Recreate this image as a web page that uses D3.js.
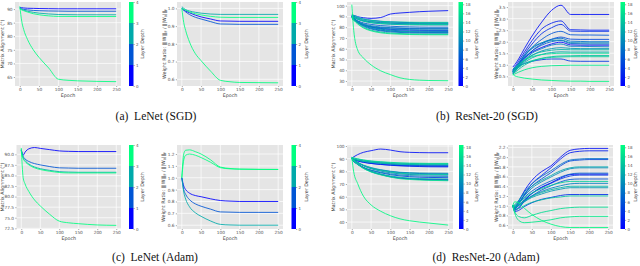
<!DOCTYPE html>
<html>
<head>
<meta charset="utf-8">
<script src="https://cdn.jsdelivr.net/npm/d3@7"></script>
<style>
  body { margin: 0; background: #fff; }
  svg { display: block; font-family: "DejaVu Sans", sans-serif; }
  .tick text { fill: #555; }
  .caption { font-family: "Liberation Serif", serif; font-size: 11.5px; fill: #111; }
</style>
</head>
<body>
<svg id="fig" width="640" height="266"></svg>
<script>
// canevas
const SVG = d3.select("#fig");

const LENET_EPOCHS = [0, 5, 10, 20, 35, 50, 75, 100, 125, 150, 200, 250];
const RESNET_EPOCHS = [0, 5, 15, 30, 50, 75, 100, 125, 150, 175, 200, 250];

// (a) LeNet SGD, one row per layer depth 0..4
const LENET_SGD_ALIGN = [
  [90.6, 90.5, 90.4, 90.3, 90.25, 90.2, 90.15, 90.1, 90.1, 90.1, 90.1, 90.1],
  [90.3, 90.1, 89.9, 89.7, 89.5, 89.4, 89.3, 89.25, 89.2, 89.2, 89.2, 89.2],
  [90.2, 89.9, 89.6, 89.2, 88.8, 88.5, 88.2, 88.0, 87.95, 87.9, 87.9, 87.9],
  [90.0, 89.7, 89.4, 88.9, 88.3, 87.9, 87.5, 87.3, 87.3, 87.25, 87.25, 87.25],
  [91.0, 85.5, 82.5, 78.8, 75.0, 72.2, 68.3, 64.2, 63.8, 63.6, 63.4, 63.3]
];
const LENET_SGD_RATIO = [
  [1.0, 0.99, 0.985, 0.975, 0.962, 0.952, 0.94, 0.929, 0.928, 0.927, 0.927, 0.927],
  [1.0, 0.99, 0.98, 0.965, 0.95, 0.94, 0.925, 0.912, 0.911, 0.91, 0.91, 0.91],
  [1.01, 1.0, 0.993, 0.985, 0.978, 0.973, 0.968, 0.966, 0.966, 0.966, 0.966, 0.966],
  [1.0, 0.995, 0.99, 0.98, 0.97, 0.963, 0.955, 0.95, 0.949, 0.949, 0.949, 0.949],
  [1.0, 0.92, 0.875, 0.81, 0.745, 0.705, 0.645, 0.594, 0.586, 0.582, 0.581, 0.58]
];

// (c) LeNet Adam
const LENET_ADAM_ALIGN = [
  [91.0, 89.8, 90.5, 91.3, 91.6, 91.4, 91.1, 90.8, 90.7, 90.65, 90.65, 90.65],
  [91.0, 89.5, 88.9, 88.3, 87.8, 87.5, 87.1, 86.8, 86.75, 86.7, 86.7, 86.7],
  [91.2, 89.2, 88.5, 87.7, 87.0, 86.6, 86.2, 85.9, 85.8, 85.75, 85.75, 85.75],
  [90.8, 89.0, 88.3, 87.5, 86.8, 86.4, 86.0, 85.7, 85.6, 85.6, 85.6, 85.6],
  [91.5, 84.5, 83.0, 81.2, 79.2, 77.8, 75.8, 74.2, 73.8, 73.6, 73.3, 73.2]
];
const LENET_ADAM_RATIO = [
  [1.0, 0.93, 0.9, 0.87, 0.85, 0.84, 0.822, 0.808, 0.803, 0.8, 0.8, 0.8],
  [1.0, 0.9, 0.86, 0.815, 0.78, 0.76, 0.735, 0.712, 0.71, 0.708, 0.708, 0.708],
  [1.0, 0.88, 0.82, 0.755, 0.705, 0.675, 0.635, 0.607, 0.602, 0.6, 0.6, 0.6],
  [1.0, 1.2, 1.232, 1.235, 1.22, 1.2, 1.15, 1.09, 1.078, 1.073, 1.071, 1.07],
  [1.0, 1.15, 1.19, 1.2, 1.19, 1.17, 1.13, 1.085, 1.075, 1.072, 1.07, 1.07]
];

// (b) ResNet-20 SGD, one row per layer depth 0..18
const RESNET_SGD_ALIGN = [
  [91, 90.2, 88.8, 87.5, 86.4, 85.4, 84.9, 84.5, 84.3, 84.1, 84.1, 84.0],
  [90, 91.0, 89.8, 88.8, 88.2, 89.0, 92.2, 93.2, 93.8, 94.4, 94.8, 95.4],
  [90, 89.0, 87.5, 86.0, 85.0, 84.2, 83.7, 83.4, 83.2, 83.1, 83.0, 83.0],
  [89, 87.2, 84.5, 82.0, 80.2, 78.8, 78.0, 77.6, 77.3, 77.1, 77.0, 77.0],
  [90, 87.8, 84.8, 81.5, 79.0, 77.2, 76.3, 75.8, 75.4, 75.2, 75.1, 75.0],
  [88, 86.5, 84.3, 82.2, 80.6, 79.6, 79.2, 78.9, 78.7, 78.6, 78.5, 78.5],
  [91, 88.7, 85.6, 82.5, 80.0, 78.2, 77.2, 76.7, 76.4, 76.2, 76.1, 76.0],
  [89, 87.8, 86.0, 84.0, 82.6, 81.5, 80.9, 80.5, 80.3, 80.1, 80.0, 80.0],
  [90, 87.5, 84.2, 80.8, 78.3, 76.6, 75.6, 75.1, 74.8, 74.6, 74.5, 74.5],
  [90, 88.2, 85.6, 83.2, 81.4, 80.2, 79.6, 79.3, 79.1, 79.0, 79.0, 79.0],
  [89, 87.2, 84.7, 82.3, 80.5, 79.2, 78.4, 78.0, 77.7, 77.6, 77.5, 77.5],
  [91, 89.6, 87.6, 85.6, 84.1, 83.2, 82.7, 82.4, 82.2, 82.1, 82.0, 82.0],
  [90, 87.8, 84.9, 81.8, 79.4, 77.7, 76.7, 76.2, 75.9, 75.7, 75.6, 75.5],
  [91, 89.9, 88.3, 86.6, 85.4, 84.6, 84.1, 83.8, 83.6, 83.5, 83.5, 83.5],
  [90, 87.3, 83.6, 79.9, 77.2, 75.5, 74.6, 74.1, 73.8, 73.6, 73.5, 73.5],
  [90, 89.0, 87.4, 85.7, 84.4, 83.5, 83.0, 82.8, 82.6, 82.5, 82.5, 82.5],
  [92, 91.0, 89.4, 87.7, 86.4, 85.5, 85.0, 84.8, 84.6, 84.5, 84.5, 84.5],
  [89, 86.5, 83.0, 79.3, 76.6, 74.8, 73.9, 73.5, 73.2, 73.1, 73.0, 73.0],
  [101, 77.0, 59.0, 51.5, 45.0, 39.5, 36.0, 33.0, 31.5, 30.8, 30.5, 30.3]
];
const RESNET_SGD_RATIO = [
  [0.75, 0.85, 1.05, 1.3, 1.55, 1.75, 1.9, 1.98, 1.86, 1.85, 1.85, 1.85],
  [0.9, 1.0, 1.25, 1.7, 2.25, 2.85, 3.35, 3.58, 3.18, 3.18, 3.18, 3.18],
  [0.8, 0.9, 1.15, 1.55, 2.05, 2.55, 2.8, 2.9, 2.52, 2.51, 2.5, 2.5],
  [0.7, 0.8, 1.05, 1.45, 1.9, 2.35, 2.6, 2.75, 2.46, 2.45, 2.45, 2.45],
  [0.8, 0.85, 0.95, 1.05, 1.15, 1.22, 1.25, 1.25, 1.16, 1.15, 1.15, 1.15],
  [0.65, 0.75, 0.95, 1.25, 1.6, 1.9, 2.1, 2.2, 2.11, 2.1, 2.1, 2.1],
  [0.7, 0.8, 1.0, 1.35, 1.75, 2.1, 2.35, 2.45, 2.3, 2.29, 2.29, 2.28],
  [0.7, 0.78, 0.98, 1.3, 1.6, 1.85, 2.0, 2.05, 1.92, 1.91, 1.9, 1.9],
  [0.75, 0.85, 1.05, 1.4, 1.7, 1.95, 2.1, 2.15, 2.02, 2.01, 2.0, 2.0],
  [0.6, 0.7, 0.9, 1.2, 1.5, 1.7, 1.85, 1.9, 1.8, 1.8, 1.79, 1.78],
  [0.7, 0.8, 1.05, 1.4, 1.75, 1.95, 2.05, 2.07, 1.96, 1.95, 1.95, 1.95],
  [0.6, 0.7, 0.9, 1.15, 1.4, 1.6, 1.7, 1.74, 1.71, 1.7, 1.7, 1.7],
  [0.65, 0.72, 0.88, 1.1, 1.3, 1.45, 1.53, 1.56, 1.55, 1.55, 1.55, 1.55],
  [0.7, 0.78, 0.95, 1.2, 1.42, 1.56, 1.63, 1.66, 1.65, 1.65, 1.65, 1.65],
  [0.6, 0.66, 0.8, 0.98, 1.15, 1.28, 1.35, 1.38, 1.39, 1.4, 1.4, 1.4],
  [0.7, 0.76, 0.88, 1.05, 1.18, 1.27, 1.32, 1.34, 1.35, 1.35, 1.35, 1.35],
  [0.8, 0.86, 1.0, 1.2, 1.35, 1.44, 1.48, 1.5, 1.5, 1.5, 1.5, 1.5],
  [0.55, 0.6, 0.68, 0.78, 0.87, 0.93, 0.96, 0.97, 0.98, 0.98, 0.98, 0.98],
  [0.6, 0.52, 0.47, 0.42, 0.38, 0.34, 0.32, 0.3, 0.29, 0.29, 0.28, 0.28]
];

// (d) ResNet-20 Adam
const RESNET_ADAM_ALIGN = [
  [90, 89.3, 88.2, 87.1, 86.2, 85.5, 85.0, 84.6, 84.4, 84.2, 84.1, 84.0],
  [90.5, 91.5, 93.2, 95.0, 96.3, 97.6, 96.8, 95.5, 95.0, 94.8, 94.7, 94.7],
  [91, 89.2, 86.4, 83.0, 79.8, 77.5, 75.7, 74.6, 74.0, 73.6, 73.3, 73.0],
  [90, 89.4, 88.4, 87.3, 86.3, 85.4, 84.8, 84.3, 84.0, 83.8, 83.6, 83.5],
  [89, 87.6, 85.5, 83.0, 80.8, 78.9, 77.4, 76.4, 75.8, 75.4, 75.2, 75.0],
  [90, 88.8, 86.9, 84.6, 82.6, 81.0, 79.8, 79.0, 78.6, 78.3, 78.1, 78.0],
  [90, 89.5, 88.7, 87.8, 87.0, 86.3, 85.6, 85.1, 84.8, 84.6, 84.5, 84.5],
  [90, 88.2, 85.6, 82.5, 79.8, 77.6, 75.9, 74.8, 74.2, 73.9, 73.7, 73.5],
  [91, 89.5, 87.3, 84.5, 82.1, 80.2, 78.9, 78.0, 77.5, 77.2, 77.1, 77.0],
  [90, 89.6, 89.0, 88.2, 87.4, 86.7, 86.1, 85.7, 85.4, 85.2, 85.1, 85.0],
  [89, 87.7, 85.6, 83.2, 81.0, 79.3, 78.0, 77.1, 76.6, 76.3, 76.1, 76.0],
  [90, 88.9, 87.1, 85.0, 83.0, 81.3, 80.1, 79.3, 78.9, 78.7, 78.6, 78.5],
  [91, 90.5, 89.7, 88.8, 88.0, 87.3, 86.8, 86.4, 86.2, 86.1, 86.0, 86.0],
  [90, 88.4, 85.9, 82.9, 80.2, 78.0, 76.4, 75.3, 74.7, 74.3, 74.1, 74.0],
  [90, 89.5, 88.8, 87.9, 87.1, 86.5, 86.0, 85.7, 85.5, 85.5, 85.5, 85.5],
  [90, 88.8, 86.9, 84.6, 82.4, 80.7, 79.4, 78.5, 78.0, 77.7, 77.6, 77.5],
  [91, 90.6, 89.9, 89.0, 88.2, 87.6, 87.1, 86.7, 86.5, 86.4, 86.3, 86.3],
  [90, 88.2, 85.5, 82.3, 79.5, 77.2, 75.5, 74.2, 73.6, 73.2, 72.9, 72.6],
  [91, 79.5, 70.5, 60.5, 53.5, 48.5, 45.0, 42.5, 41.0, 40.0, 39.2, 37.6]
];
const RESNET_ADAM_RATIO = [
  [1.0, 0.92, 0.95, 1.1, 1.25, 1.38, 1.47, 1.57, 1.64, 1.65, 1.65, 1.65],
  [1.0, 0.95, 1.08, 1.3, 1.52, 1.7, 1.82, 2.0, 2.14, 2.17, 2.18, 2.18],
  [1.0, 0.93, 1.02, 1.22, 1.45, 1.62, 1.78, 1.96, 2.09, 2.12, 2.13, 2.13],
  [1.0, 0.88, 0.9, 0.98, 1.06, 1.13, 1.17, 1.21, 1.23, 1.23, 1.23, 1.23],
  [1.0, 0.94, 1.0, 1.12, 1.25, 1.37, 1.46, 1.55, 1.61, 1.63, 1.63, 1.63],
  [1.0, 0.96, 1.05, 1.22, 1.4, 1.55, 1.68, 1.82, 1.92, 1.94, 1.95, 1.95],
  [1.0, 0.9, 0.95, 1.08, 1.2, 1.32, 1.41, 1.49, 1.54, 1.55, 1.55, 1.55],
  [1.0, 0.97, 1.04, 1.17, 1.3, 1.42, 1.51, 1.59, 1.65, 1.67, 1.67, 1.67],
  [1.0, 1.0, 1.1, 1.28, 1.45, 1.6, 1.72, 1.85, 1.94, 1.96, 1.97, 1.97],
  [1.0, 0.95, 1.0, 1.1, 1.2, 1.29, 1.36, 1.41, 1.45, 1.46, 1.46, 1.46],
  [1.0, 0.98, 1.06, 1.2, 1.36, 1.49, 1.59, 1.69, 1.76, 1.78, 1.78, 1.78],
  [1.0, 0.96, 1.0, 1.08, 1.17, 1.24, 1.3, 1.34, 1.37, 1.37, 1.37, 1.37],
  [1.0, 1.02, 1.1, 1.25, 1.4, 1.52, 1.62, 1.72, 1.78, 1.8, 1.8, 1.8],
  [1.0, 0.97, 1.01, 1.1, 1.19, 1.27, 1.33, 1.37, 1.4, 1.4, 1.4, 1.4],
  [1.0, 0.93, 0.94, 1.0, 1.07, 1.12, 1.16, 1.18, 1.2, 1.2, 1.2, 1.2],
  [1.0, 1.0, 1.05, 1.15, 1.26, 1.35, 1.42, 1.47, 1.5, 1.5, 1.5, 1.5],
  [1.0, 0.88, 0.78, 0.75, 0.8, 0.86, 0.9, 0.94, 0.96, 0.97, 0.97, 0.97],
  [1.0, 0.85, 0.7, 0.65, 0.66, 0.68, 0.71, 0.75, 0.77, 0.78, 0.78, 0.78],
  [1.0, 1.08, 1.06, 0.95, 0.82, 0.7, 0.62, 0.57, 0.55, 0.55, 0.55, 0.55]
];

// ticks and texts
const EPOCH_TICKS = [0, 50, 100, 150, 200, 250];
const LENET_DEPTH_TICKS = [0, 1, 2, 3, 4];
const RESNET_DEPTH_TICKS = [0, 2, 4, 6, 8, 10, 12, 14, 16, 18];
const CAPTIONS = ["(a)  LeNet (SGD)", "(b)  ResNet-20 (SGD)", "(c)  LeNet (Adam)", "(d)  ResNet-20 (Adam)"];

// colormap "winter" : bleu -> vert
const winter = t => d3.rgb(0, Math.round(255 * t), Math.round(255 * (1 - 0.5 * t))).formatHex();

let uid = 0;

function drawPanel(p) {
  const g = SVG.append("g");
  const x = d3.scaleLinear().domain([-12.5, 262.5]).range([p.x0, p.x1]);
  const y = d3.scaleLinear().domain(p.yDomain).range([p.y1, p.y0]);

  g.append("rect")
    .attr("x", p.x0).attr("y", p.y0)
    .attr("width", p.x1 - p.x0).attr("height", p.y1 - p.y0)
    .attr("fill", "#e5e5e5");

  // grille blanche
  g.selectAll("line.gx").data(EPOCH_TICKS).enter().append("line")
    .attr("x1", d => x(d)).attr("x2", d => x(d))
    .attr("y1", p.y0).attr("y2", p.y1)
    .attr("stroke", "#fff").attr("stroke-width", 0.7);
  g.selectAll("line.gy").data(p.yTicks).enter().append("line")
    .attr("y1", d => y(d)).attr("y2", d => y(d))
    .attr("x1", p.x0).attr("x2", p.x1)
    .attr("stroke", "#fff").attr("stroke-width", 0.7);

  // axes
  const ax = g.append("g").attr("transform", `translate(0,${p.y1})`)
    .call(d3.axisBottom(x).tickValues(EPOCH_TICKS).tickSize(1).tickPadding(0.8));
  const ay = g.append("g").attr("transform", `translate(${p.x0},0)`)
    .call(d3.axisLeft(y).tickValues(p.yTicks).tickFormat(d3.format(p.yFormat)).tickSize(1.2).tickPadding(1.2));
  [ax, ay].forEach(a => {
    a.select(".domain").remove();
    a.selectAll(".tick line").attr("stroke", "#555").attr("stroke-width", 0.5);
    a.selectAll(".tick text").attr("font-size", 4.3).attr("font-family", "DejaVu Sans");
  });

  g.append("text")
    .attr("x", (p.x0 + p.x1) / 2).attr("y", p.y1 + 11.2)
    .attr("text-anchor", "middle").attr("font-size", 4.8).attr("fill", "#444")
    .text("Epoch");

  const yl = g.append("text")
    .attr("transform", `translate(${p.yLabelX},${(p.y0 + p.y1) / 2}) rotate(-90)`)
    .attr("text-anchor", "middle").attr("font-size", 4.8).attr("fill", "#444")
    .attr("dominant-baseline", "middle");
  if (p.kind === "align") {
    yl.text("Matrix Alignment (°)");
  } else {
    yl.append("tspan").text("Weight Ratio: ‖|W|‖");
    yl.append("tspan").attr("dy", 1).attr("font-size", 3.4).text("F");
    yl.append("tspan").attr("dy", -1).text(" / ‖|W");
    yl.append("tspan").attr("dy", 1).attr("font-size", 3.4).text("0");
    yl.append("tspan").attr("dy", -1).text("|‖");
    yl.append("tspan").attr("dy", 1).attr("font-size", 3.4).text("F");
  }

  // couleur de chaque couche
  const color = p.discrete
    ? d => winter(Math.min(Math.floor(d), 3) / 3)
    : d => winter(d / p.depthMax);

  const line = d3.line()
    .x((v, i) => x(p.epochs[i]))
    .y(v => y(v))
    .curve(d3.curveMonotoneX);

  const clipId = "clip" + (uid++);
  g.append("clipPath").attr("id", clipId).append("rect")
    .attr("x", p.x0).attr("y", p.y0).attr("width", p.x1 - p.x0).attr("height", p.y1 - p.y0);

  g.append("g").attr("clip-path", `url(#${clipId})`)
    .selectAll("path").data(p.series).enter().append("path")
    .attr("d", line)
    .attr("fill", "none")
    .attr("stroke", (s, i) => color(i))
    .attr("stroke-width", 1)
    .attr("stroke-opacity", 0.85);

  // barre de couleur
  const cy = d3.scaleLinear().domain([0, p.depthMax]).range([p.y1, p.y0]);
  const cw = 4.5;
  if (p.discrete) {
    g.selectAll("rect.bin").data([0, 1, 2, 3]).enter().append("rect")
      .attr("x", p.cbX).attr("width", cw)
      .attr("y", d => cy(d + 1)).attr("height", d => cy(d) - cy(d + 1))
      .attr("fill", d => winter(d / 3));
  } else {
    const id = "grad" + (uid++);
    const grad = SVG.append("defs").append("linearGradient").attr("id", id)
      .attr("x1", 0).attr("y1", 1).attr("x2", 0).attr("y2", 0);
    grad.selectAll("stop").data([0, 0.5, 1]).enter().append("stop")
      .attr("offset", d => d).attr("stop-color", d => winter(d));
    g.append("rect").attr("x", p.cbX).attr("width", cw)
      .attr("y", p.y0).attr("height", p.y1 - p.y0)
      .attr("fill", `url(#${id})`);
  }
  const ac = g.append("g").attr("transform", `translate(${p.cbX + cw},0)`)
    .call(d3.axisRight(cy)
      .tickValues(p.discrete ? LENET_DEPTH_TICKS : RESNET_DEPTH_TICKS)
      .tickFormat(d3.format("d"))
      .tickSize(1.2).tickPadding(1.2));
  ac.select(".domain").remove();
  ac.selectAll(".tick line").attr("stroke", "#555").attr("stroke-width", 0.5);
  ac.selectAll(".tick text").attr("font-size", 4).attr("font-family", "DejaVu Sans");

  g.append("text")
    .attr("transform", `translate(${p.cbLabelX},${(p.y0 + p.y1) / 2}) rotate(-90)`)
    .attr("text-anchor", "middle").attr("dominant-baseline", "middle")
    .attr("font-size", 4.8).attr("fill", "#444")
    .text("Layer Depth");
}

const TOP = { y0: 2, y1: 86 };
const BOT = { y0: 145, y1: 229 };

const PANELS = [
  { ...TOP, x0: 15, x1: 121, kind: "align", yDomain: [61.7, 92.6], yTicks: [65, 70, 75, 80, 85, 90], yFormat: "d",
    epochs: LENET_EPOCHS, series: LENET_SGD_ALIGN, discrete: true, depthMax: 4, yLabelX: 3, cbX: 129, cbLabelX: 143 },
  { ...TOP, x0: 177, x1: 283, kind: "ratio", yDomain: [0.562, 1.036], yTicks: [0.6, 0.7, 0.8, 0.9, 1.0], yFormat: ".1f",
    epochs: LENET_EPOCHS, series: LENET_SGD_RATIO, discrete: true, depthMax: 4, yLabelX: 165, cbX: 291.5, cbLabelX: 306.5 },
  { ...TOP, x0: 347, x1: 453, kind: "align", yDomain: [25.4, 103.4], yTicks: [30, 40, 50, 60, 70, 80, 90, 100], yFormat: "d",
    epochs: RESNET_EPOCHS, series: RESNET_SGD_ALIGN, discrete: false, depthMax: 18.5, yLabelX: 334, cbX: 458.5, cbLabelX: 476.5 },
  { ...TOP, x0: 508, x1: 614, kind: "ratio", yDomain: [0.08, 3.72], yTicks: [0.5, 1.0, 1.5, 2.0, 2.5, 3.0, 3.5], yFormat: ".1f",
    epochs: RESNET_EPOCHS, series: RESNET_SGD_RATIO, discrete: false, depthMax: 18.5, yLabelX: 497, cbX: 620.5, cbLabelX: 636 },
  { ...BOT, x0: 16.5, x1: 121, kind: "align", yDomain: [72.34, 92.2], yTicks: [72.5, 75, 77.5, 80, 82.5, 85, 87.5, 90], yFormat: ".1f",
    epochs: LENET_EPOCHS, series: LENET_ADAM_ALIGN, discrete: true, depthMax: 4, yLabelX: 2.2, cbX: 129, cbLabelX: 143 },
  { ...BOT, x0: 177, x1: 283, kind: "ratio", yDomain: [0.568, 1.276], yTicks: [0.6, 0.7, 0.8, 0.9, 1.0, 1.1, 1.2], yFormat: ".1f",
    epochs: LENET_EPOCHS, series: LENET_ADAM_RATIO, discrete: true, depthMax: 4, yLabelX: 164, cbX: 291.5, cbLabelX: 306.5 },
  { ...BOT, x0: 347, x1: 453, kind: "align", yDomain: [34.5, 100.8], yTicks: [40, 50, 60, 70, 80, 90, 100], yFormat: "d",
    epochs: RESNET_EPOCHS, series: RESNET_ADAM_ALIGN, discrete: false, depthMax: 18.5, yLabelX: 334, cbX: 459, cbLabelX: 476.5 },
  { ...BOT, x0: 508, x1: 613, kind: "ratio", yDomain: [0.52, 2.25], yTicks: [0.6, 0.8, 1.0, 1.2, 1.4, 1.6, 1.8, 2.0, 2.2], yFormat: ".1f",
    epochs: RESNET_EPOCHS, series: RESNET_ADAM_RATIO, discrete: false, depthMax: 18.5, yLabelX: 496.5, cbX: 620.5, cbLabelX: 636 }
];

PANELS.forEach(drawPanel);

// légendes sous chaque figure
const CAPTION_POS = [[156, 119.5], [487, 119.5], [155, 260.5], [486, 260.5]];
SVG.selectAll("text.caption").data(CAPTIONS).enter().append("text")
  .attr("class", "caption")
  .attr("x", (d, i) => CAPTION_POS[i][0])
  .attr("y", (d, i) => CAPTION_POS[i][1])
  .attr("text-anchor", "middle")
  .style("white-space", "pre")
  .text(d => d);
</script>
</body>
</html>
